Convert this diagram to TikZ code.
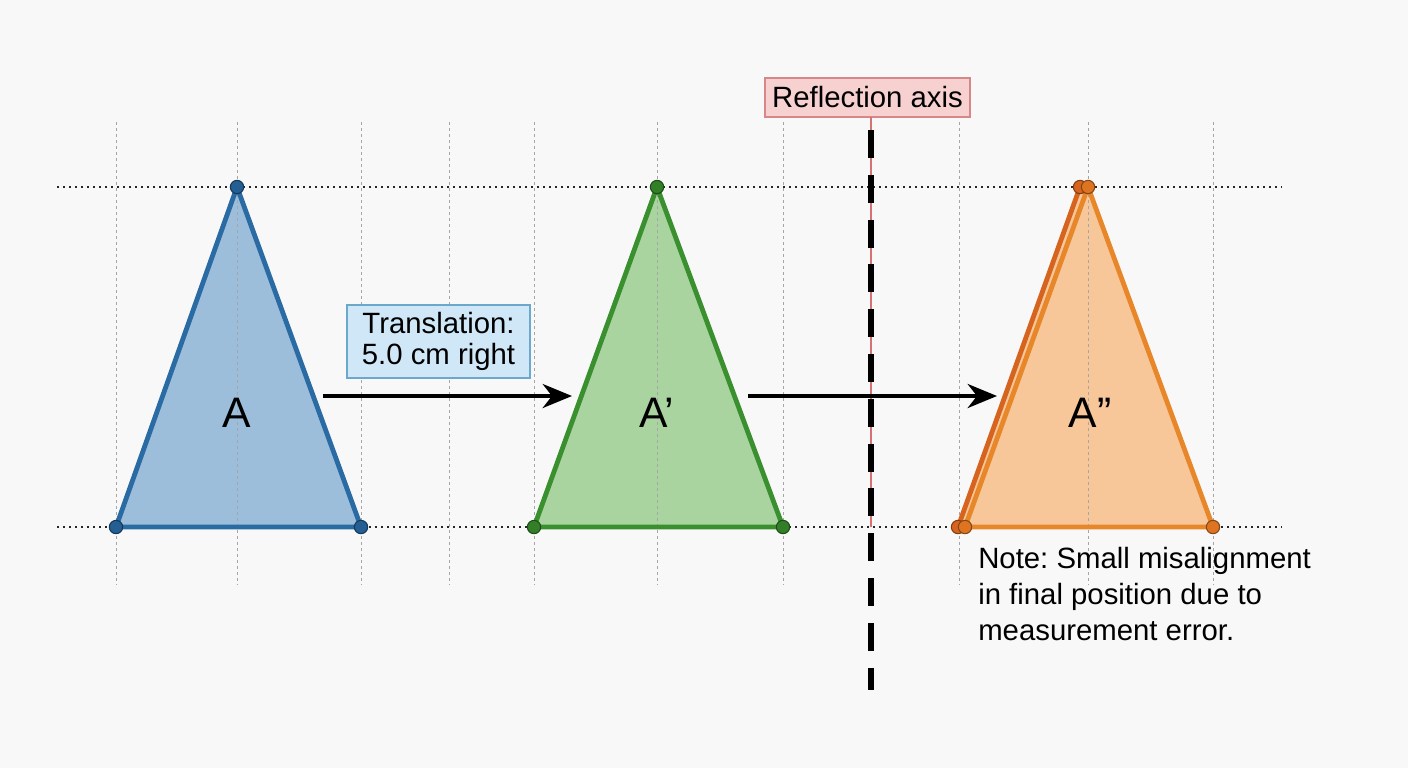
\documentclass[tikz,border=0pt]{standalone}
\usepackage{fontspec}
\setmainfont{Liberation Sans}
\frenchspacing
\usetikzlibrary{arrows.meta}
\definecolor{bgc}{HTML}{F8F8F8}
\definecolor{bstroke}{HTML}{2A6BA3}
\definecolor{bfill}{HTML}{9CBEDB}
\definecolor{bdot}{HTML}{245E92}
\definecolor{gstroke}{HTML}{3A8F2E}
\definecolor{gfill}{HTML}{A9D4A0}
\definecolor{gdot}{HTML}{327F28}
\definecolor{ostroke}{HTML}{E8872A}
\definecolor{ofill}{HTML}{F7C79A}
\definecolor{odot}{HTML}{DE7422}
\definecolor{oghost}{HTML}{D6641E}
\definecolor{tfill}{HTML}{CFE7F6}
\definecolor{tdraw}{HTML}{6AA8CC}
\definecolor{rfill}{HTML}{F7D0D0}
\definecolor{rdraw}{HTML}{D68888}
\definecolor{axred}{HTML}{D77272}
\tikzset{
  gridv/.style={gray!70, line width=0.6pt, dash pattern=on 2.5pt off 2pt},
  doth/.style={black!85, line width=1.3pt, dash pattern=on 1.5pt off 3pt},
  tri/.style={line width=3.6pt, line join=round},
  vdot/.style={circle, inner sep=0pt, minimum size=10pt, line width=0.8pt},
  biglabel/.style={font=\fontsize{32}{36}\selectfont, inner sep=0pt},
  bodytext/.style={font=\fontsize{22}{27}\selectfont},
  movearrow/.style={line width=3pt, -{Stealth[length=22pt, width=18pt, inset=7pt]}},
}
\begin{document}
\begin{tikzpicture}[x=0.75pt, y=-0.75pt]
\fill[bgc] (0,0) rectangle (1408,768);
\useasboundingbox (0,0) rectangle (1408,768);

% vertices
\coordinate (a1) at (116,527);
\coordinate (a2) at (361,527);
\coordinate (a3) at (237,187);
\coordinate (b1) at (534,527);
\coordinate (b2) at (783,527);
\coordinate (b3) at (657,187);
\coordinate (c1) at (965,527);
\coordinate (c2) at (1213,527);
\coordinate (c3) at (1088,187);
\coordinate (g1) at (958,527);
\coordinate (g3) at (1080,187);

% fills
\fill[bfill] (a1) -- (a2) -- (a3) -- cycle;
\fill[gfill] (b1) -- (b2) -- (b3) -- cycle;
\fill[ofill] (g1) -- (c2) -- (c3) -- (g3) -- cycle;

% grid
\foreach \x in {116,237,361,449,534,657,783,959,1088,1213}
  \draw[gridv] (\x,122) -- (\x,585);
\draw[doth] (57,187) -- (1282,187);
\draw[doth] (57,527) -- (1282,527);

% reflection axis
\node[draw=rdraw, fill=rfill, line width=0.8pt, minimum width=153.75pt, minimum height=29.25pt, inner sep=0pt, bodytext] (refl) at (867.5,97.5) {Reflection axis};
\coordinate (axtop) at (871,117);
\coordinate (axmid) at (871,527);
\coordinate (dtop) at (871,130);
\coordinate (dbot) at (871,690);
\draw[axred, line width=1.8pt] (axtop) -- (axmid);
\draw[black, line width=4.6pt, dash pattern=on 21pt off 12.6pt] (dtop) -- (dbot);

% triangle strokes
\draw[tri, bstroke] (a1) -- (a2) -- (a3) -- cycle;
\draw[tri, gstroke] (b1) -- (b2) -- (b3) -- cycle;
\draw[tri, oghost] (g1) -- (g3);
\draw[tri, ostroke] (c1) -- (c2) -- (c3) -- cycle;

% dots
\foreach \p in {a1,a2,a3} \node[vdot, fill=bdot, draw=bdot!60!black] at (\p) {};
\foreach \p in {b1,b2,b3} \node[vdot, fill=gdot, draw=gdot!60!black] at (\p) {};
\foreach \p in {g1,g3} \node[vdot, fill=oghost, draw=oghost!60!black] at (\p) {};
\foreach \p in {c1,c2,c3} \node[vdot, fill=odot, draw=odot!60!black] at (\p) {};

% labels
\node[biglabel] (lA) at (237,413) {A};
\node[biglabel] (lB) at (657,413) {A’};
\node[biglabel] (lC) at (1090,413) {A”};

% arrows
\coordinate (ar1s) at (323,396);
\coordinate (ar1e) at (572,396);
\coordinate (ar2s) at (748,396);
\coordinate (ar2e) at (997,396);
\draw[movearrow] (ar1s) -- (ar1e);
\draw[movearrow] (ar2s) -- (ar2e);

% translation box
\node[draw=tdraw, fill=tfill, line width=0.8pt, minimum width=137.25pt, minimum height=54.75pt, inner sep=0pt, align=center, font=\fontsize{22}{23.3}\selectfont] (trans) at (438.5,341.5) {Translation:\\5.0 cm right};

% note
\node[bodytext, anchor=north west, inner sep=0pt, align=left] (note) at (978,547) {Note: Small misalignment\\in final position due to\\measurement error.};
\end{tikzpicture}
\end{document}
